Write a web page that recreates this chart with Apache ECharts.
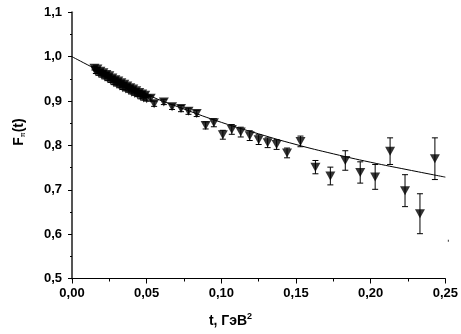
<!DOCTYPE html>
<html>
<head>
<meta charset="utf-8">
<script src="https://cdn.jsdelivr.net/npm/echarts@6/dist/echarts.min.js"></script>
<style>html,body{margin:0;padding:0;background:#fff}#c{width:461px;height:334px}</style>
</head>
<body>
<div id="c"></div>
<script>
// Measured points: t (GeV^2), F_pi(t), error
var tVals = [0.015,0.016,0.017,0.018,0.019,0.020,0.021,0.022,0.023,0.024,0.025,0.026,0.027,0.028,0.029,0.030,0.031,0.032,0.033,0.034,0.035,0.036,0.037,0.038,0.039,0.040,0.041,0.042,0.043,0.044,0.045,0.046,0.047,0.048,0.049,0.050,
  0.0527,0.055,0.0615,0.067,0.073,0.078,0.0835,0.0895,0.095,0.101,0.107,0.113,0.119,0.125,0.131,0.137,0.144,0.153,0.163,0.173,0.183,0.193,0.203,0.213,0.223,0.233,0.243];
var fVals = [0.974,0.966,0.972,0.962,0.967,0.958,0.964,0.954,0.960,0.950,0.957,0.946,0.952,0.941,0.948,0.938,0.945,0.934,0.941,0.930,0.938,0.927,0.934,0.924,0.930,0.920,0.927,0.917,0.923,0.914,0.919,0.910,0.916,0.907,0.913,0.905,
  0.906,0.894,0.898,0.887,0.883,0.877,0.872,0.845,0.851,0.824,0.836,0.830,0.822,0.813,0.806,0.802,0.783,0.809,0.751,0.731,0.766,0.739,0.729,0.787,0.698,0.646,0.770];
var errVals = [0.004,0.004,0.004,0.004,0.004,0.004,0.004,0.004,0.004,0.004,0.004,0.004,0.004,0.004,0.004,0.004,0.004,0.004,0.004,0.004,0.004,0.004,0.004,0.004,0.004,0.004,0.004,0.004,0.004,0.004,0.005,0.005,0.005,0.005,0.005,0.005,
  0.006,0.006,0.006,0.006,0.007,0.007,0.007,0.008,0.009,0.010,0.011,0.011,0.011,0.011,0.011,0.011,0.011,0.012,0.015,0.020,0.022,0.024,0.028,0.030,0.036,0.045,0.047];
// Fit curve
var fitT = [0,0.0125,0.025,0.05,0.075,0.1,0.125,0.15,0.175,0.2,0.225,0.25];
var fitF = [1.0,0.978,0.957,0.915,0.882,0.852,0.826,0.802,0.781,0.762,0.745,0.7285];
// stray mark at right edge
var strayT = [0.252];
var strayF = [0.585];
// axis ticks
var xMin = 0, xMax = 0.25, xStep = 0.05;
var yMin = 0.5, yMax = 1.1, yStep = 0.1;

var pts = tVals.map(function(t,i){return [t,fVals[i]];});
var bars = tVals.map(function(t,i){return [t,fVals[i]-errVals[i],fVals[i]+errVals[i]];});
var fit = fitT.map(function(t,i){return [t,fitF[i]];});
var stray = strayT.map(function(t,i){return [t,strayF[i]];});

function fmt(d){return function(v){return v.toFixed(d).replace('.',',');};}

var chart = echarts.init(document.getElementById('c'));
var font = 'Liberation Sans, Arial, sans-serif';
chart.setOption({
  animation:false,
  backgroundColor:'#fff',
  grid:{left:72,right:11,top:12.3,bottom:55.5,containLabel:false},
  xAxis:{type:'value',min:xMin,max:xMax,interval:xStep,
    axisLine:{onZero:false,lineStyle:{color:'#000',width:1}},
    axisTick:{show:true,inside:false,length:5,lineStyle:{color:'#000'}},
    minorTick:{show:true,splitNumber:2,length:3,lineStyle:{color:'#000'}},
    splitLine:{show:false},
    axisLabel:{formatter:fmt(2),color:'#000',fontFamily:font,fontWeight:'bold',fontSize:13,margin:8,showMaxLabel:true}
  },
  yAxis:{type:'value',min:yMin,max:yMax,interval:yStep,
    axisLine:{show:true,onZero:false,lineStyle:{color:'#555',width:2}},
    axisTick:{show:true,inside:false,length:4,lineStyle:{color:'#000'}},
    minorTick:{show:true,splitNumber:2,length:2,lineStyle:{color:'#000'}},
    splitLine:{show:false},
    axisLabel:{formatter:fmt(1),color:'#000',fontFamily:font,fontWeight:'bold',fontSize:13,margin:10}
  },
  graphic:[
    {type:'text',left:'center',x:0,top:312,style:{
      text:'{a|t, ГэВ}{s|2}',
      rich:{a:{fontFamily:font,fontWeight:'bold',fontSize:14,fill:'#000'},
            s:{fontFamily:font,fontWeight:'bold',fontSize:9,fill:'#000',padding:[0,0,10,0]}}
    }},
    {type:'text',x:19,y:132,rotation:Math.PI/2,style:{
      text:'{a|F}{s|π}{a|(t)}',align:'center',verticalAlign:'middle',
      rich:{a:{fontFamily:font,fontWeight:'bold',fontSize:14,fill:'#000'},
            s:{fontFamily:font,fontSize:7,fill:'#000',padding:[8,0,0,0]}}
    }}
  ],
  series:[
    {type:'line',data:fit,smooth:true,showSymbol:false,lineStyle:{color:'#000',width:1},z:2},
    {type:'custom',data:bars,z:3,
      renderItem:function(params,api){
        var x=api.value(0),lo=api.value(1),hi=api.value(2);
        var a=api.coord([x,lo]),b=api.coord([x,hi]);var w=3;
        var st={stroke:'#000',lineWidth:1};
        return {type:'group',children:[
          {type:'line',shape:{x1:a[0],y1:a[1],x2:b[0],y2:b[1]},style:st},
          {type:'line',shape:{x1:a[0]-w,y1:a[1],x2:a[0]+w,y2:a[1]},style:st},
          {type:'line',shape:{x1:b[0]-w,y1:b[1],x2:b[0]+w,y2:b[1]},style:st}
        ]};
      }},
    {type:'scatter',data:pts,symbol:'triangle',symbolRotate:180,symbolSize:[10,9],itemStyle:{color:'#000'},z:4},
    {type:'scatter',data:stray,symbol:'rect',symbolSize:[1,2],clip:false,itemStyle:{color:'#000'},z:4}
  ]
});
</script>
</body>
</html>
